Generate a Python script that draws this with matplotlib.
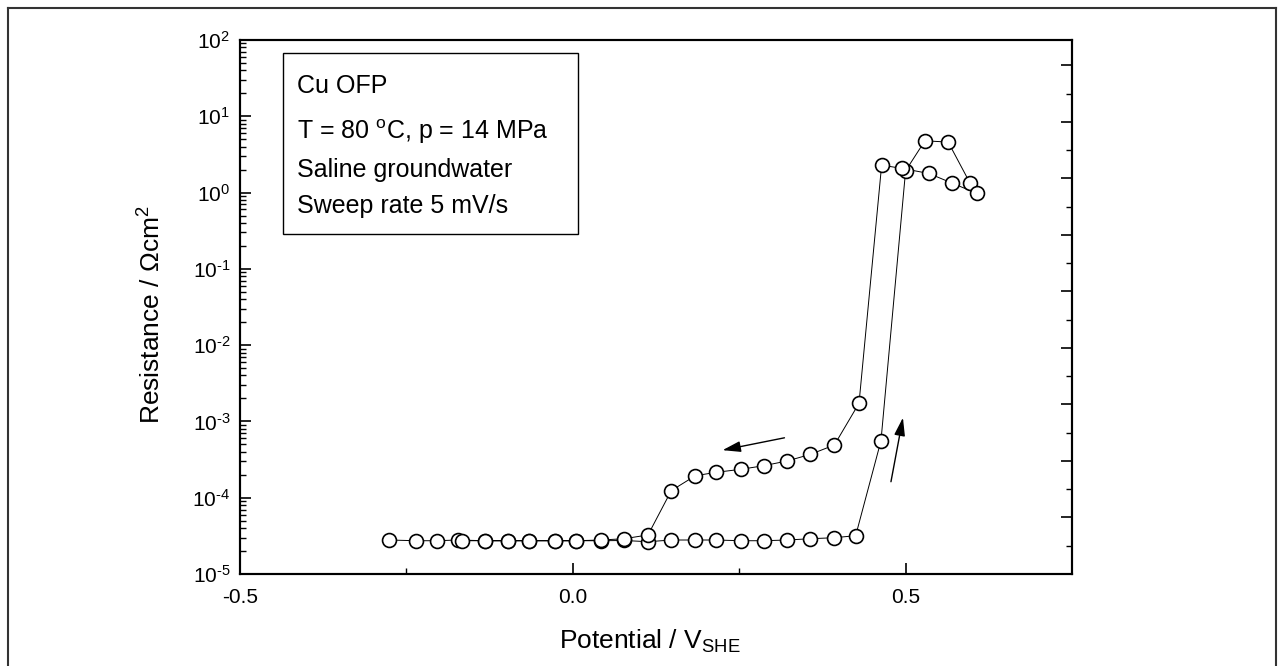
import numpy as np
import matplotlib
matplotlib.use('Agg')
import matplotlib.pyplot as plt
import matplotlib.ticker as mtick
from matplotlib.lines import Line2D
from matplotlib.patches import Rectangle

plt.rcParams['font.family'] = ['Liberation Sans', 'DejaVu Sans']
plt.rcParams['mathtext.fontset'] = 'custom'
plt.rcParams['mathtext.rm'] = 'Liberation Sans'
plt.rcParams['mathtext.it'] = 'Liberation Sans'
plt.rcParams['mathtext.default'] = 'regular'

# forward (anodic) sweep
fwd_potential = [-0.276, -0.236, -0.204, -0.173, -0.132, -0.097, -0.066, -0.026, 0.005,
                 0.043, 0.077, 0.113, 0.148, 0.184, 0.215, 0.253, 0.287, 0.322, 0.357,
                 0.393, 0.425, 0.463, 0.500, 0.529, 0.564, 0.597, 0.607]
fwd_resistance = [2.79e-5, 2.73e-5, 2.73e-5, 2.79e-5, 2.73e-5, 2.73e-5, 2.73e-5, 2.73e-5, 2.73e-5,
                  2.73e-5, 2.75e-5, 2.65e-5, 2.79e-5, 2.79e-5, 2.79e-5, 2.73e-5, 2.73e-5, 2.79e-5, 2.90e-5,
                  2.99e-5, 3.18e-5, 5.58e-4, 1.93, 4.77, 4.59, 1.32, 0.977]

# reverse sweep (continues from the last forward point)
rev_potential = [0.569, 0.535, 0.495, 0.464, 0.430, 0.393, 0.357, 0.322, 0.287, 0.253,
                 0.215, 0.184, 0.148, 0.113, 0.077, 0.043, 0.005, -0.026, -0.066, -0.097,
                 -0.132, -0.166]
rev_resistance = [1.34, 1.78, 2.07, 2.29, 1.73e-3, 4.91e-4, 3.70e-4, 3.03e-4, 2.63e-4, 2.36e-4,
                  2.15e-4, 1.94e-4, 1.24e-4, 3.25e-5, 2.90e-5, 2.79e-5, 2.73e-5, 2.73e-5, 2.73e-5, 2.73e-5,
                  2.73e-5, 2.73e-5]

# sweep direction arrows: (tail, head) in data coords
arrow_rev = ((0.318, 6.1e-4), (0.225, 4.2e-4))
arrow_fwd = ((0.478, 1.62e-4), (0.496, 1.12e-3))

info_lines = ['Cu OFP',
              'T = 80 $^{o}$C, p = 14 MPa',
              'Saline groundwater',
              'Sweep rate 5 mV/s']

W, H = 1284, 666
fig = plt.figure(figsize=(W / 100, H / 100), dpi=100)
ax = fig.add_axes([240 / W, 1 - 574 / H, (1072 - 240) / W, (574 - 40) / H])

x = fwd_potential + rev_potential
y = fwd_resistance + rev_resistance
ax.plot(x, y, color='black', lw=0.7, marker='o', ms=10, mfc='white', mec='black', mew=1.2, zorder=3)

for (x0, y0), (x1, y1) in (arrow_rev, arrow_fwd):
    ax.annotate('', xy=(x1, y1), xytext=(x0, y0),
                arrowprops=dict(arrowstyle='-|>,head_length=1.1,head_width=0.33', color='black', lw=1.0,
                                shrinkA=0, shrinkB=0))

ax.set_yscale('log')
ax.set_xlim(-0.5, 0.75)
ax.set_ylim(1e-5, 1e2)
ax.set_xticks([-0.5, 0.0, 0.5])
ax.set_xticklabels(['-0.5', '0.0', '0.5'])
ax.xaxis.set_minor_locator(mtick.FixedLocator([-0.25, 0.25]))
ax.yaxis.set_major_locator(mtick.LogLocator(base=10, numticks=20))
ax.yaxis.set_minor_locator(mtick.LogLocator(base=10, subs=np.arange(2, 10), numticks=20))
ax.yaxis.set_major_formatter(mtick.FuncFormatter(
    lambda v, p: '10$^{\\text{%d}}$' % int(round(np.log10(v)))))
ax.yaxis.set_minor_formatter(mtick.NullFormatter())

ax.tick_params(axis='both', which='major', direction='in', length=8, width=1.2, labelsize=15, top=False, right=False)
ax.tick_params(axis='both', which='minor', direction='in', length=4, width=1.0, top=False, right=False)
ax.tick_params(axis='x', which='major', pad=10)
ax.tick_params(axis='y', which='major', pad=7)
for s in ax.spines.values():
    s.set_linewidth(1.5)

# linear right-hand axis, ticks only
ax2 = ax.twinx()
ax2.set_ylim(0, 9.45)
ax2.yaxis.set_major_locator(mtick.MultipleLocator(1))
ax2.yaxis.set_minor_locator(mtick.MultipleLocator(0.5))
ax2.tick_params(axis='y', which='major', direction='in', length=8, width=1.2, labelright=False)
ax2.tick_params(axis='y', which='minor', direction='in', length=4, width=1.0)
for s in ax2.spines.values():
    s.set_linewidth(1.5)

ax.set_xlabel('Potential / V$_{SHE}$', fontsize=19)
ax.xaxis.set_label_coords(0.493, -0.1)
ax.set_ylabel('Resistance / \u03a9cm$^{2}$', fontsize=19)
ax.yaxis.set_label_coords(-0.09, 0.485)

# info box
fig.add_artist(Rectangle((283 / W, 1 - 234 / H), (578 - 283) / W, (234 - 53) / H,
                         transform=fig.transFigure, fill=False, lw=1.0, ec='black'))
for txt, base in zip(info_lines, [93, 139, 177, 213]):
    fig.text(297 / W, 1 - base / H, txt, fontsize=18, va='baseline', ha='left')

# outer frame
fc = '#333333'
fig.add_artist(Line2D([8 / W, 8 / W], [0, 1 - 8 / H], transform=fig.transFigure, color=fc, lw=1.5))
fig.add_artist(Line2D([8 / W, 1276 / W], [1 - 8 / H, 1 - 8 / H], transform=fig.transFigure, color=fc, lw=1.5))
fig.add_artist(Line2D([1276 / W, 1276 / W], [0, 1 - 8 / H], transform=fig.transFigure, color=fc, lw=1.5))

fig.savefig('out.png', dpi=100)
